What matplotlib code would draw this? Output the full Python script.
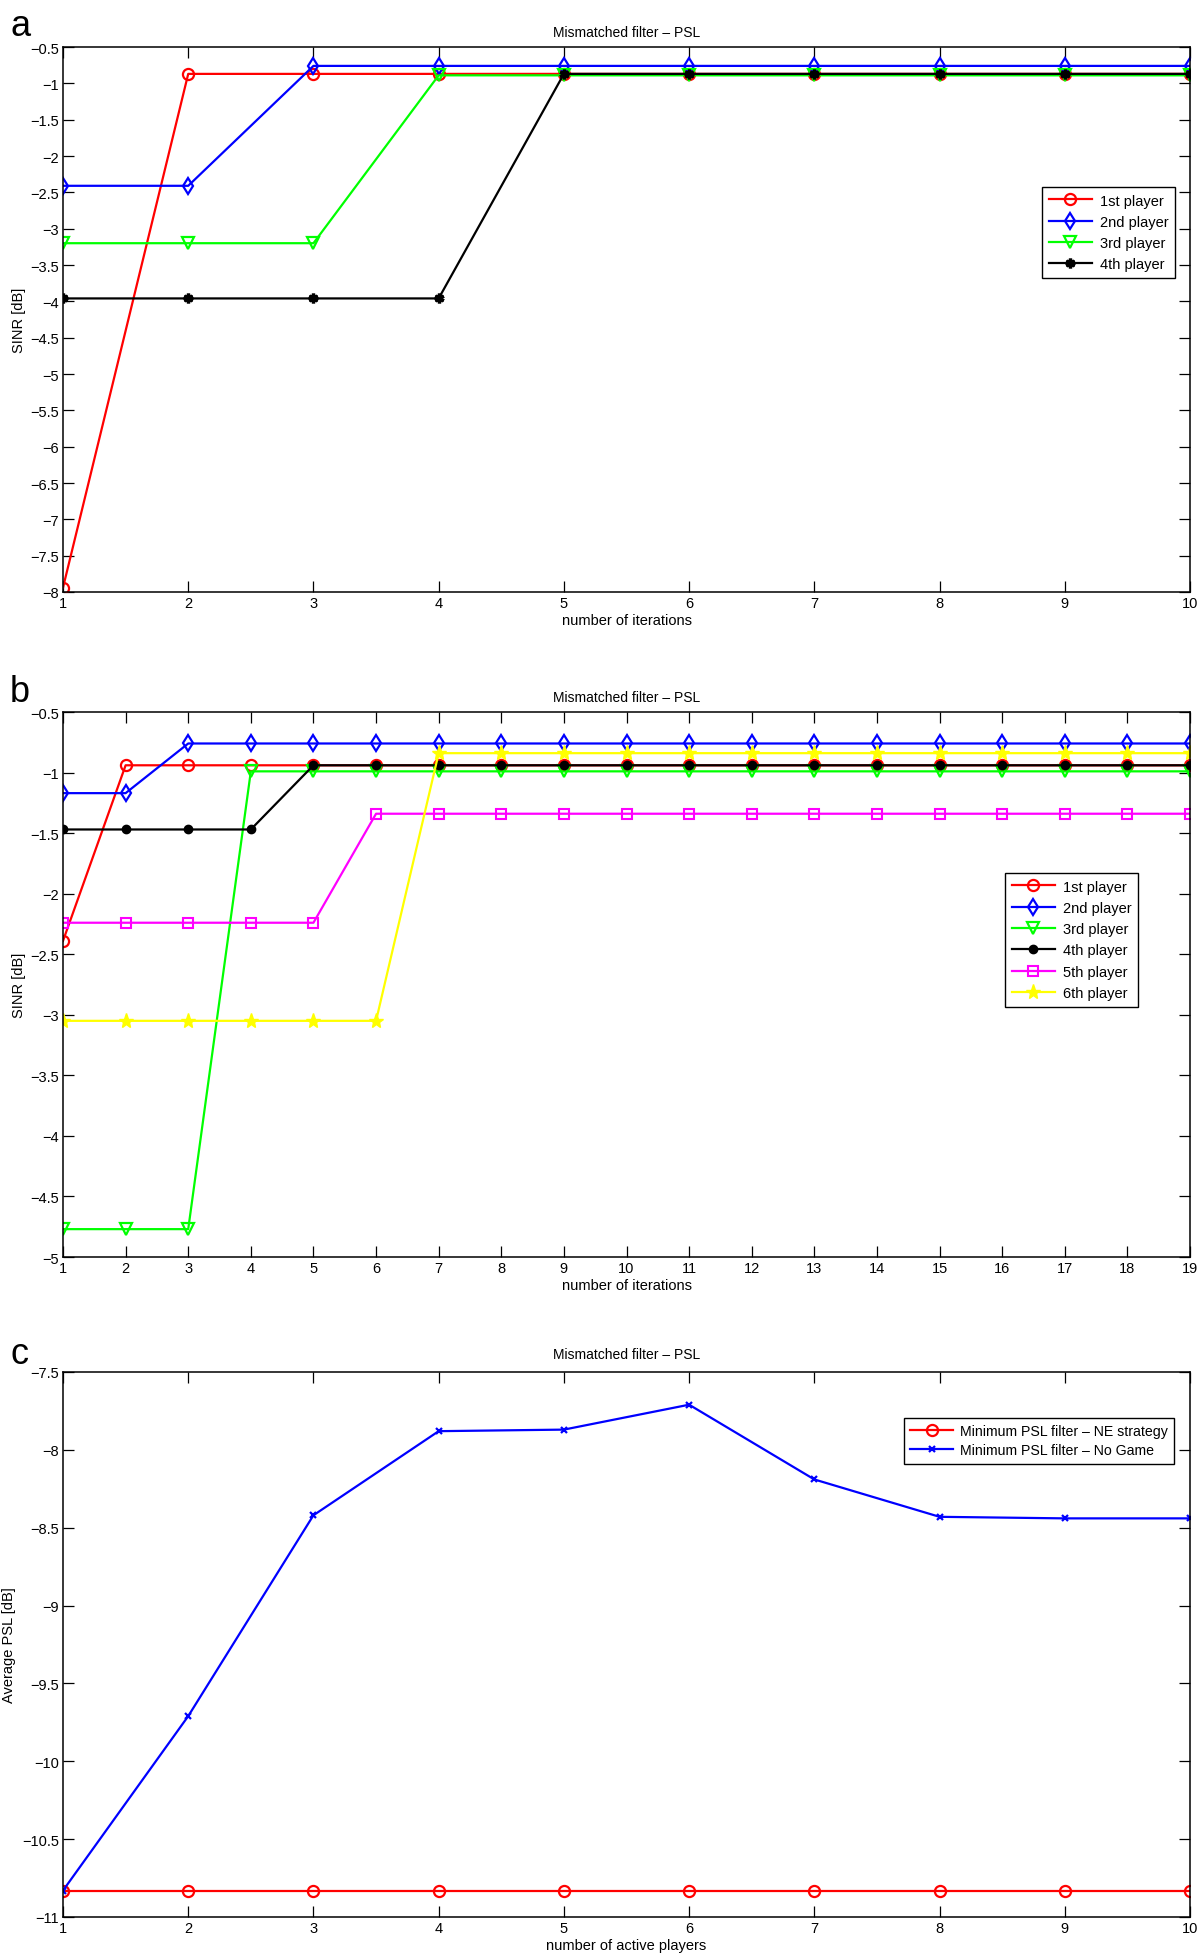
import matplotlib
matplotlib.use("Agg")
import matplotlib.pyplot as plt
from matplotlib.ticker import FuncFormatter, MultipleLocator
import numpy as np

plt.rcParams['font.family'] = ['Liberation Sans', 'DejaVu Sans']

# ---------------- data ----------------
# panel a
iters_a = list(range(1, 11))
a_p1 = [-7.94, -0.87, -0.87, -0.87, -0.87, -0.87, -0.87, -0.87, -0.87, -0.87]
a_p2 = [-2.41, -2.41, -0.76, -0.76, -0.76, -0.76, -0.76, -0.76, -0.76, -0.76]
a_p3 = [-3.20, -3.20, -3.20, -0.89, -0.89, -0.89, -0.89, -0.89, -0.89, -0.89]
a_p4 = [-3.96, -3.96, -3.96, -3.96, -0.87, -0.87, -0.87, -0.87, -0.87, -0.87]

# panel b
iters_b = list(range(1, 20))
b_p1 = [-2.39] + [-0.94] * 18
b_p2 = [-1.17, -1.17] + [-0.76] * 17
b_p3 = [-4.77, -4.77, -4.77] + [-0.99] * 16
b_p4 = [-1.47, -1.47, -1.47, -1.47] + [-0.94] * 15
b_p5 = [-2.24] * 5 + [-1.34] * 14
b_p6 = [-3.05] * 6 + [-0.84] * 13

# panel c
players_c = list(range(1, 11))
c_ne = [-10.83] * 10
c_nogame = [-10.83, -9.71, -8.42, -7.88, -7.87, -7.71, -8.19, -8.43, -8.44, -8.44]

player_labels = ["1st player", "2nd player", "3rd player", "4th player", "5th player", "6th player"]
c_labels = ["Minimum PSL filter \u2013 NE strategy", "Minimum PSL filter \u2013 No Game"]
title_txt = "Mismatched filter \u2013 PSL"

# ---------------- figure ----------------
W, H = 1200, 1956
fig = plt.figure(figsize=(W / 100, H / 100), dpi=100)

def fig_rect(top_px, bottom_px, left_px=63, right_px=1190):
    return [left_px / W, 1 - bottom_px / H, (right_px - left_px) / W, (bottom_px - top_px) / H]

fmt = FuncFormatter(lambda v, p: ('%g' % round(v, 3)).replace('-', '\u2212'))

def style_axes(ax):
    ax.tick_params(direction='in', length=8, width=0.9, top=True, right=True,
                   labelsize=10.5, pad=3, colors='black')
    for s in ax.spines.values():
        s.set_linewidth(1.1)
    ax.yaxis.set_major_formatter(fmt)
    ax.xaxis.set_major_formatter(fmt)

lw = 1.6
ms = 8

def add_legend(ax, x0, y0, fontsize=10.5, labelspacing=0.45, **kw):
    leg = ax.legend(loc='upper left', bbox_to_anchor=(x0 / W, 1 - y0 / H),
                    bbox_transform=fig.transFigure, borderaxespad=0,
                    fancybox=False, framealpha=1, edgecolor='black',
                    fontsize=fontsize, handlelength=3.0, labelspacing=labelspacing,
                    borderpad=0.45, handletextpad=0.5, **kw)
    leg.get_frame().set_linewidth(1.0)
    return leg

# ---- panel a ----
ax = fig.add_axes(fig_rect(48, 593))
ax.plot(iters_a, a_p1, color='#ff0000', lw=lw, marker='o', ms=ms, mfc='none', mew=1.6, label=player_labels[0])
ax.plot(iters_a, a_p2, color='#0000ff', lw=lw, marker='d', ms=ms, mfc='none', mew=1.6, label=player_labels[1])
ax.plot(iters_a, a_p3, color='#00ff00', lw=lw, marker='v', ms=ms, mfc='none', mew=1.6, label=player_labels[2])
ax.plot(iters_a, a_p4, color='black', lw=lw, marker=(6, 2, 0), ms=7, mew=2.4, label=player_labels[3])
ax.set_xlim(1, 10)
ax.set_ylim(-8, -0.5)
ax.xaxis.set_major_locator(MultipleLocator(1))
ax.yaxis.set_major_locator(MultipleLocator(0.5))
style_axes(ax)
ax.set_title(title_txt, fontsize=10, pad=8)
ax.set_xlabel("number of iterations", fontsize=10.5, labelpad=2)
ax.set_ylabel("SINR [dB]", fontsize=10.5, labelpad=3)
add_legend(ax, 1042, 188, labelspacing=0.5)
fig.text(10 / W, 1 - 36 / H, "a", fontsize=26, va='baseline', ha='left')

# ---- panel b ----
ax = fig.add_axes(fig_rect(713, 1258))
ax.plot(iters_b, b_p1, color='#ff0000', lw=lw, marker='o', ms=ms, mfc='none', mew=1.6, label=player_labels[0])
ax.plot(iters_b, b_p2, color='#0000ff', lw=lw, marker='d', ms=ms, mfc='none', mew=1.6, label=player_labels[1])
ax.plot(iters_b, b_p3, color='#00ff00', lw=lw, marker='v', ms=ms, mfc='none', mew=1.6, label=player_labels[2])
ax.plot(iters_b, b_p4, color='black', lw=lw, marker='o', ms=6, label=player_labels[3])
ax.plot(iters_b, b_p5, color='#ff00ff', lw=lw, marker='s', ms=6.5, mfc='none', mew=1.5, label=player_labels[4])
ax.plot(iters_b, b_p6, color='#ffff00', lw=lw, marker='*', ms=11, label=player_labels[5])
ax.set_xlim(1, 19)
ax.set_ylim(-5, -0.5)
ax.xaxis.set_major_locator(MultipleLocator(1))
ax.yaxis.set_major_locator(MultipleLocator(0.5))
style_axes(ax)
ax.set_title(title_txt, fontsize=10, pad=8)
ax.set_xlabel("number of iterations", fontsize=10.5, labelpad=2)
ax.set_ylabel("SINR [dB]", fontsize=10.5, labelpad=3)
add_legend(ax, 1005, 874, labelspacing=0.5)
fig.text(10 / W, 1 - 702 / H, "b", fontsize=26, va='baseline', ha='left')

# ---- panel c ----
ax = fig.add_axes(fig_rect(1373, 1918))
ax.plot(players_c, c_ne, color='#ff0000', lw=lw, marker='o', ms=ms, mfc='none', mew=1.6, label=c_labels[0])
ax.plot(players_c, c_nogame, color='#0000ff', lw=lw, marker='x', ms=5, mew=1.6, label=c_labels[1])
ax.set_xlim(1, 10)
ax.set_ylim(-11, -7.5)
ax.xaxis.set_major_locator(MultipleLocator(1))
ax.yaxis.set_major_locator(MultipleLocator(0.5))
style_axes(ax)
ax.set_title(title_txt, fontsize=10, pad=10)
ax.set_xlabel("number of active players", fontsize=10.5, labelpad=2)
ax.set_ylabel("Average PSL [dB]", fontsize=10.5, labelpad=4)
add_legend(ax, 904, 1419, fontsize=10.2, labelspacing=0.35)
fig.text(10 / W, 1 - 1364 / H, "c", fontsize=26, va='baseline', ha='left')

fig.savefig("out.png", dpi=100, facecolor='white')
